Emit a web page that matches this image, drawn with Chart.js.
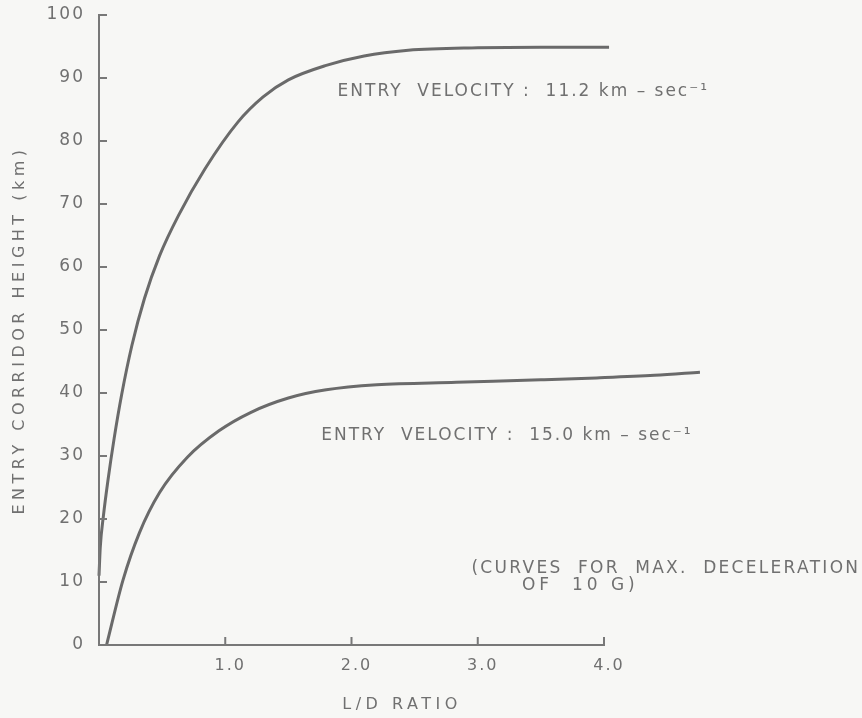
<!DOCTYPE html>
<html>
<head>
<meta charset="utf-8">
<script src="https://cdn.jsdelivr.net/npm/chart.js@4/dist/chart.umd.min.js"></script>
<style>
  html, body { margin: 0; padding: 0; background: #f7f7f5; }
  #wrap { width: 862px; height: 718px; position: relative; }
</style>
</head>
<body>
<div id="wrap"><canvas id="c" width="862" height="718"></canvas></div>
<script>
// ---- data ----
const xTickValues = [1, 2, 3, 4];
const yTickValues = [0, 10, 20, 30, 40, 50, 60, 70, 80, 90, 100];

// Entry velocity 11.2 km/s
const upperX = [0.000, 0.010, 0.035, 0.070, 0.120, 0.180, 0.260, 0.360, 0.480, 0.630, 0.840, 1.100, 1.300, 1.500, 1.800, 2.100, 2.450, 3.000, 3.500, 4.040];
const upperY = [11.0, 15.5, 20.5, 26.0, 32.8, 39.8, 47.5, 55.0, 61.8, 68.2, 75.6, 83.0, 87.0, 89.7, 92.0, 93.5, 94.4, 94.8, 94.9, 94.9];

// Entry velocity 15.0 km/s
const lowerX = [0.06, 0.19, 0.32, 0.48, 0.70, 0.95, 1.20, 1.50, 1.80, 2.20, 2.83, 3.50, 3.94, 4.40, 4.76];
const lowerY = [0.0, 10.3, 17.8, 24.2, 29.8, 34.0, 36.9, 39.2, 40.5, 41.3, 41.7, 42.1, 42.4, 42.8, 43.3];

const xTitle = 'L/D RATIO';
const yTitle = 'ENTRY CORRIDOR HEIGHT (km)';
const upperLabel = 'ENTRY  VELOCITY :  11.2 km – sec⁻¹';
const lowerLabel = 'ENTRY  VELOCITY :  15.0 km – sec⁻¹';
const noteLine1 = '(CURVES  FOR  MAX.  DECELERATION';
const noteLine2 = 'OF  10 G)';

// ---- styles ----
const INK = '#6a6a6a';
const TEXT = '#707070';
const FONT = '"DejaVu Sans", sans-serif';

const toPts = (xs, ys) => xs.map((x, i) => ({ x: x, y: ys[i] }));

// annotation anchors in data units (left edge, vertical centre)
const notes = [
  { text: upperLabel, x: 1.89, y: 87.9, spacing: 2 },
  { text: lowerLabel, x: 1.76, y: 33.3, spacing: 2 },
  { text: noteLine1, x: 2.95, y: 12.2, spacing: 2.3 },
  { text: noteLine2, x: 3.35, y: 9.5, spacing: 4 }
];

const axesPlugin = {
  id: 'axesPlugin',
  afterLayout(chart) {
    for (const id of ['x', 'y']) {
      const s = chart.scales[id];
      if (s && !s._wrapped) {
        const orig = s.drawTitle.bind(s);
        const origLabels = s.drawLabels.bind(s);
        const sp = id === 'x' ? '4.5px' : '4.5px';
        s.drawTitle = function () {
          const ctx = this.ctx; ctx.save(); ctx.letterSpacing = sp; orig(); ctx.restore();
        };
        s.drawLabels = function (a) {
          const ctx = this.ctx; ctx.save(); ctx.letterSpacing = '2px'; origLabels(a); ctx.restore();
        };
        s._wrapped = true;
      }
    }
  },
  afterDatasetsDraw(chart) {
    const ctx = chart.ctx;
    const xs = chart.scales.x, ys = chart.scales.y;
    const x0 = xs.getPixelForValue(0);
    const xe = xs.getPixelForValue(xTickValues[xTickValues.length - 1]);
    const y0 = ys.getPixelForValue(0);
    const yt = ys.getPixelForValue(yTickValues[yTickValues.length - 1]);
    ctx.save();
    ctx.strokeStyle = '#787878';
    ctx.lineWidth = 2;
    ctx.lineCap = 'square';
    ctx.beginPath();
    ctx.moveTo(x0, yt); ctx.lineTo(x0, y0); ctx.lineTo(xe, y0);
    for (const v of yTickValues) {
      if (v === 0) continue;
      const p = ys.getPixelForValue(v);
      ctx.moveTo(x0, p); ctx.lineTo(x0 + 7, p);
    }
    for (const v of xTickValues) {
      const p = xs.getPixelForValue(v);
      ctx.moveTo(p, y0); ctx.lineTo(p, y0 - 7);
    }
    ctx.stroke();
    ctx.restore();
  },
  afterDraw(chart) {
    const ctx = chart.ctx;
    const xs = chart.scales.x, ys = chart.scales.y;
    ctx.save();
    ctx.fillStyle = TEXT;
    ctx.font = '17px ' + FONT;
    ctx.textBaseline = 'middle';
    ctx.textAlign = 'left';
    for (const n of notes) {
      ctx.letterSpacing = n.spacing + 'px';
      ctx.fillText(n.text, xs.getPixelForValue(n.x), ys.getPixelForValue(n.y));
    }
    ctx.restore();
  }
};

const lineStyle = {
  showLine: true,
  pointRadius: 0,
  pointHoverRadius: 0,
  borderColor: INK,
  borderWidth: 3,
  fill: false,
  cubicInterpolationMode: 'monotone',
  clip: false
};

new Chart(document.getElementById('c'), {
  type: 'scatter',
  data: {
    datasets: [
      Object.assign({ label: 'Entry velocity 11.2 km/s', data: toPts(upperX, upperY) }, lineStyle),
      Object.assign({ label: 'Entry velocity 15.0 km/s', data: toPts(lowerX, lowerY) }, lineStyle)
    ]
  },
  options: {
    responsive: false,
    animation: false,
    devicePixelRatio: 1,
    layout: { padding: { left: 0, top: 15, right: 157, bottom: 0 } },
    plugins: { legend: { display: false }, tooltip: { enabled: false } },
    scales: {
      x: {
        type: 'linear',
        min: 0,
        max: 4.8,
        afterBuildTicks: s => { s.ticks = xTickValues.map(v => ({ value: v })); },
        afterFit: s => { s.height = 73; s.paddingLeft = 0; s.paddingRight = 0; },
        grid: { display: false, drawTicks: false },
        border: { display: false },
        ticks: {
          callback: v => Number(v).toFixed(1),
          color: TEXT,
          font: { family: FONT, size: 16 },
          padding: 11,
          labelOffset: 5,
          maxRotation: 0,
          autoSkip: false
        },
        title: {
          display: true,
          text: xTitle,
          color: TEXT,
          font: { family: FONT, size: 16 },
          padding: { top: 4, bottom: 4 }
        }
      },
      y: {
        type: 'linear',
        min: 0,
        max: 100,
        afterBuildTicks: s => { s.ticks = yTickValues.map(v => ({ value: v })); },
        afterFit: s => { s.width = 99; s.paddingTop = 0; s.paddingBottom = 0; },
        grid: { display: false, drawTicks: false },
        border: { display: false },
        ticks: {
          color: TEXT,
          font: { family: FONT, size: 17 },
          padding: 14,
          autoSkip: false
        },
        title: {
          display: true,
          text: yTitle,
          color: TEXT,
          font: { family: FONT, size: 16 },
          padding: { top: 10, bottom: 4 }
        }
      }
    }
  },
  plugins: [axesPlugin]
});
</script>
</body>
</html>
